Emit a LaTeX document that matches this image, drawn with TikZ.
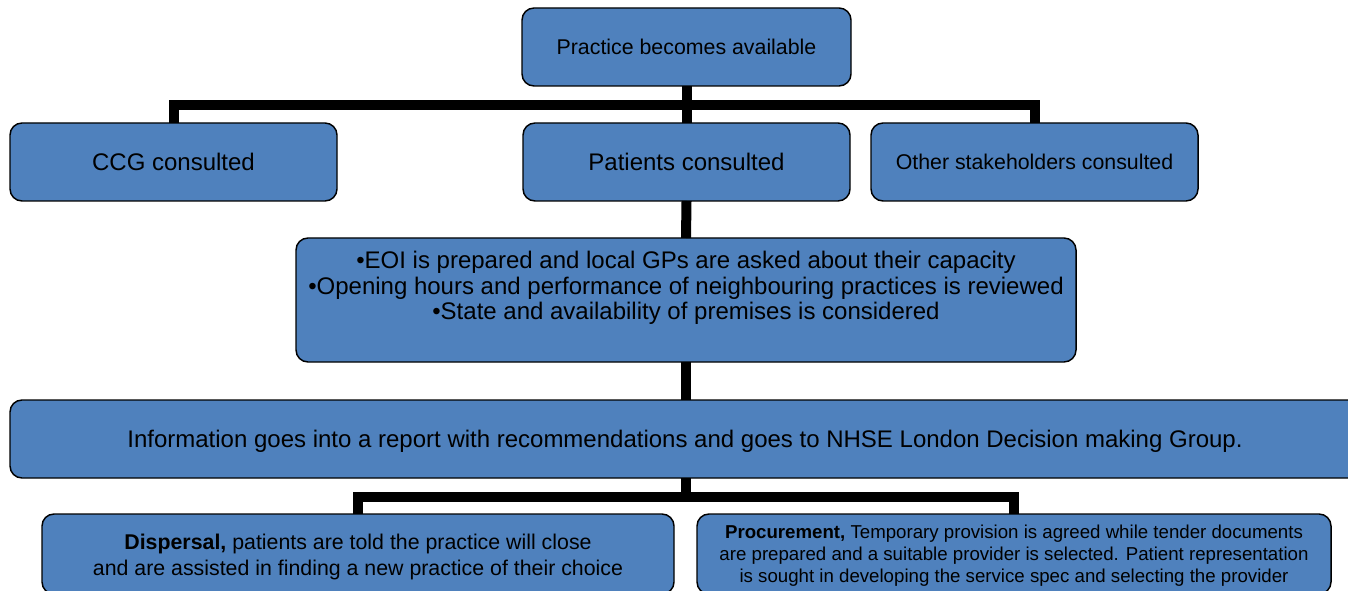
\documentclass[tikz,border=0pt]{standalone}
\usepackage{fontspec}
\setmainfont{Liberation Sans}
\definecolor{boxblue}{HTML}{4F81BD}
\begin{document}
\begin{tikzpicture}[x=0.75pt,y=-0.75pt,
  box/.style={draw=black, line width=1.1pt, fill=boxblue, rounded corners=9pt, text=black, align=center, inner sep=0pt, outer sep=0pt},
  plain/.style={text=black, align=center, inner sep=0pt},
  conn/.style={draw=black, line width=7.5pt, line join=miter}]
\useasboundingbox (0,0) rectangle (1348,591);
% boxes
\node[box, minimum width=329*0.75pt, minimum height=78*0.75pt, font=\fontsize{16}{19}\selectfont, text depth=0pt] (top) at (686.5,47) {Practice becomes available};
\node[box, minimum width=327*0.75pt, minimum height=78*0.75pt, font=\fontsize{18}{21}\selectfont, text depth=0pt] (ccg) at (173.5,162) {CCG consulted};
\node[box, minimum width=327*0.75pt, minimum height=78*0.75pt, font=\fontsize{18}{21}\selectfont, text depth=0pt] (pat) at (686.5,162) {Patients consulted};
\node[box, minimum width=327*0.75pt, minimum height=78*0.75pt, font=\fontsize{16}{19}\selectfont, text depth=0pt] (oth) at (1034.5,162) {Other stakeholders consulted};
\node[box, minimum width=780*0.75pt, minimum height=124*0.75pt] (eoi) at (686,300) {};
\node[plain, font=\fontsize{18}{19.2}\selectfont] (eoitext) at (686,288) {•EOI is prepared and local GPs are asked about their capacity\\•Opening hours and performance of neighbouring practices is reviewed\\•State and availability of premises is considered};
\node[box, minimum width=1380*0.75pt, minimum height=78*0.75pt] (info) at (700,439) {};
\node[plain, font=\fontsize{18}{21}\selectfont] (infotext) at (685,441) {Information goes into a report with recommendations and goes to NHSE London Decision making Group.};
\node[box, minimum width=632*0.75pt, minimum height=80*0.75pt] (disp) at (358,554) {};
\node[plain, font=\fontsize{16}{19.5}\selectfont] (disptext) at (358,557) {\textbf{Dispersal,} patients are told the practice will close\\and are assisted in finding a new practice of their choice};
\node[box, minimum width=634*0.75pt, minimum height=80*0.75pt] (proc) at (1014,554) {};
\node[plain, font=\fontsize{14}{16.5}\selectfont] (proctext) at (1014,556) {\textbf{Procurement,} Temporary provision is agreed while tender documents\\are prepared and a suitable provider is selected. Patient representation\\is sought in developing the service spec and selecting the provider};
% connectors
\coordinate (barT) at (686.5,105);
\coordinate (barB) at (686,497);
\draw[conn] (top.south) -- (pat.north);
\draw[conn] (ccg.north) |- (barT) -| (oth.north);
\draw[conn] (pat.south) -- (eoi.north);
\draw[conn] (eoi.south) -- (eoi.south |- info.north);
\draw[conn] (info.south -| eoi.south) -- (barB);
\draw[conn] (disp.north) |- (barB) -| (proc.north);
\end{tikzpicture}
\end{document}
